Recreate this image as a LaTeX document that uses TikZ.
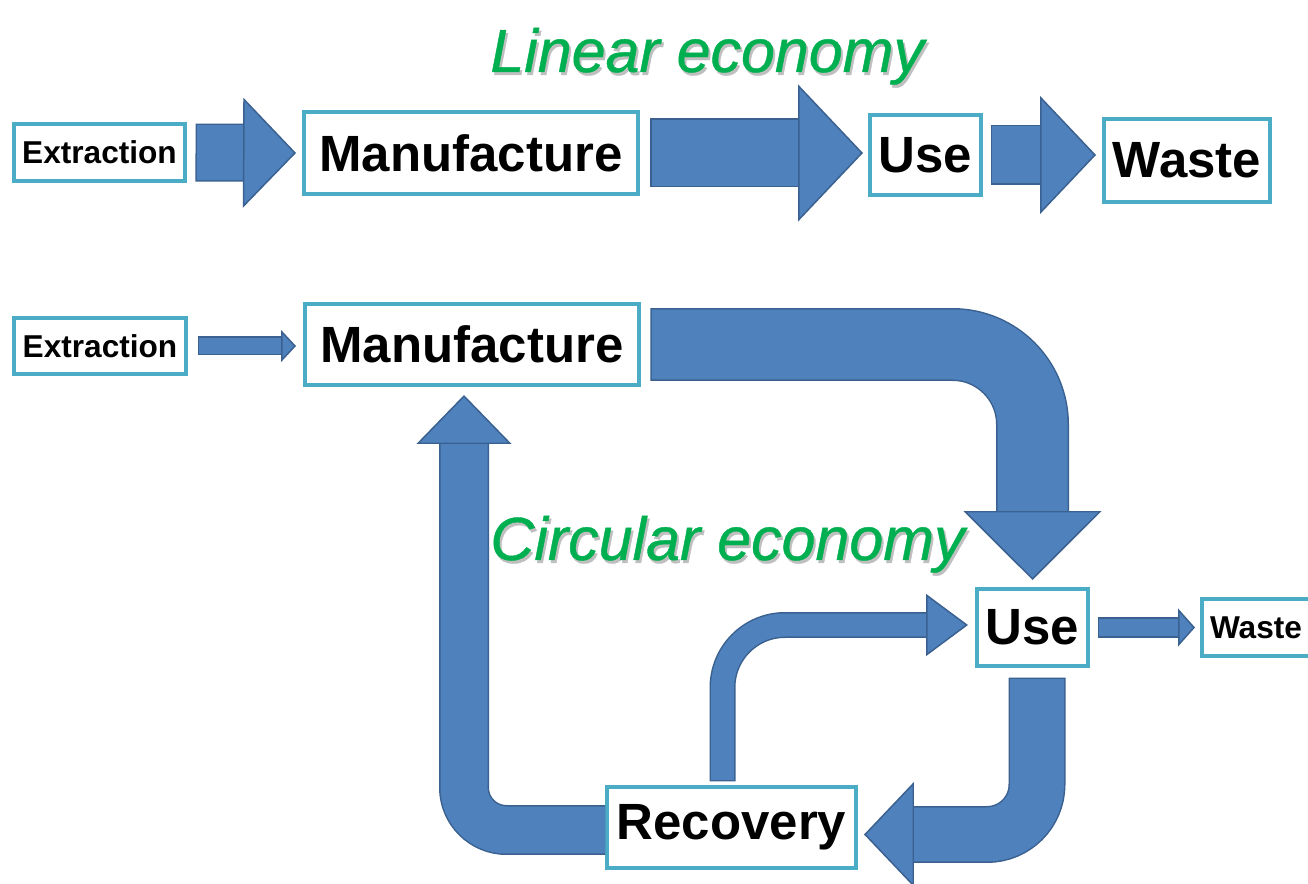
\documentclass[tikz,border=0pt]{standalone}
\usepackage{fontspec}
\setmainfont{Liberation Sans}
\usetikzlibrary{arrows.meta}
\definecolor{boxline}{HTML}{4BACC6}
\definecolor{arrowfill}{HTML}{4F81BD}
\definecolor{arrowline}{HTML}{3A6190}
\definecolor{ecogreen}{HTML}{00B050}

\begin{document}
\begin{tikzpicture}[x=0.02cm, y=-0.02cm,
  box/.style={draw=boxline, line width=2.3pt, fill=white, inner sep=0pt,
    font=\bfseries\fontsize{29}{30}\selectfont},
  smallbox/.style={box, font=\bfseries\fontsize{18}{20}\selectfont},
  rim/.style={draw=arrowline, line width=#1},
  flow/.style={draw=arrowfill, line width=#1},
  head/.style 2 args={-{Triangle[width=#1, length=#2, fill=arrowfill, color=arrowline, line width=0.85pt]}},
  eco/.style={text=ecogreen, font=\itshape\fontsize{34.7}{36}\selectfont\addfontfeatures{FakeBold=0.7},
    inner sep=0pt, anchor=base west},
  ecoshade/.style={eco, text=black!25}]
  \useasboundingbox (0,0) rectangle (1308,884);

  % linear economy
  \node[ecoshade] (linsh) at (492,75) {Linear economy};
  \node[eco] (lin) at (490,72) {Linear economy};
  \node[smallbox, minimum width=3.42cm, minimum height=1.14cm] (ext1) at (99.5,152.5) {Extraction};
  \node[box, minimum width=6.68cm, minimum height=1.64cm] (man1) at (471,153) {Manufacture};
  \node[box, minimum width=2.22cm, minimum height=1.6cm] (use1) at (925.5,155) {Use};
  \node[box, minimum width=3.32cm, minimum height=1.66cm] (was1) at (1187,160.5) {Waste};

  \draw[rim=1.16cm, shorten <=0.17cm, shorten >=1.18cm] (ext1.east) -- (man1.west);
  \draw[flow=1.10cm, shorten <=0.20cm, shorten >=0.12cm, head={2.2cm}{1.06cm}] (ext1.east) -- (man1.west);
  \draw[rim=1.38cm, shorten <=0.21cm, shorten >=1.40cm] (man1.east) -- (use1.west |- man1.east);
  \draw[flow=1.32cm, shorten <=0.24cm, shorten >=0.10cm, head={2.74cm}{1.30cm}] (man1.east) -- (use1.west |- man1.east);
  \draw[rim=1.20cm, shorten <=0.15cm, shorten >=1.24cm] (use1.east) -- (was1.west |- use1.east);
  \draw[flow=1.14cm, shorten <=0.18cm, shorten >=0.12cm, head={2.36cm}{1.12cm}] (use1.east) -- (was1.west |- use1.east);

  % circular economy
  \node[ecoshade] (cirsh) at (492,563) {Circular economy};
  \node[eco] (cir) at (490,560) {Circular economy};
  \node[smallbox, minimum width=3.44cm, minimum height=1.12cm] (ext2) at (100,346) {Extraction};
  \node[box, minimum width=6.68cm, minimum height=1.62cm] (man2) at (472,344.5) {Manufacture};
  \node[box, minimum width=2.22cm, minimum height=1.54cm] (use2) at (1032.5,627.5) {Use};
  \node[smallbox, minimum width=2.16cm, minimum height=1.14cm] (was2) at (1256,627.5) {Waste};
  \node[box, minimum width=4.98cm, minimum height=1.62cm] (rec) at (731.5,827.5) {Recovery};

  \draw[rim=0.38cm, shorten <=0.19cm, shorten >=0.44cm] (ext2.east) -- (man2.west |- ext2.east);
  \draw[flow=0.32cm, shorten <=0.22cm, shorten >=0.14cm, head={0.64cm}{0.30cm}] (ext2.east) -- (man2.west |- ext2.east);
  \draw[rim=1.46cm, rounded corners=1.6cm, shorten <=0.19cm, shorten >=1.52cm] (man2.east) -| (use2.north);
  \draw[flow=1.40cm, rounded corners=1.6cm, shorten <=0.22cm, shorten >=0.14cm, head={2.76cm}{1.38cm}] (man2.east) -| (use2.north);
  \draw[rim=1.14cm, rounded corners=1cm, shorten <=0.19cm, shorten >=1.12cm] ([xshift=0.09cm]use2.south) |- ([yshift=-0.14cm]rec.east);
  \draw[flow=1.08cm, rounded corners=1cm, shorten <=0.22cm, shorten >=0.12cm, head={2.10cm}{1.0cm}] ([xshift=0.09cm]use2.south) |- ([yshift=-0.14cm]rec.east);
  \draw[rim=1.0cm, rounded corners=0.85cm, shorten >=1.14cm] ([yshift=-0.05cm]rec.west) -| ([xshift=-0.16cm]man2.south);
  \draw[flow=0.94cm, rounded corners=0.85cm, shorten >=0.16cm, head={1.90cm}{0.98cm}] ([yshift=-0.05cm]rec.west) -| ([xshift=-0.16cm]man2.south);
  \draw[rim=0.52cm, rounded corners=1.25cm, shorten <=0.07cm, shorten >=0.98cm] ([xshift=-0.18cm]rec.north) |- ([yshift=0.05cm]use2.west);
  \draw[flow=0.46cm, rounded corners=1.25cm, shorten <=0.10cm, shorten >=0.14cm, head={1.24cm}{0.84cm}] ([xshift=-0.18cm]rec.north) |- ([yshift=0.05cm]use2.west);
  \draw[rim=0.42cm, shorten <=0.15cm, shorten >=0.44cm] (use2.east) -- (was2.west);
  \draw[flow=0.36cm, shorten <=0.18cm, shorten >=0.10cm, head={0.76cm}{0.34cm}] (use2.east) -- (was2.west);
\end{tikzpicture}
\end{document}
